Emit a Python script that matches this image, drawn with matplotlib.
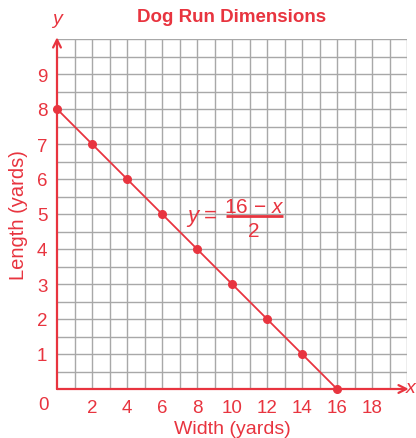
import matplotlib.pyplot as plt

plt.rcParams['font.family'] = 'Liberation Sans'
plt.rcParams['mathtext.fontset'] = 'custom'
plt.rcParams['mathtext.rm'] = 'Liberation Sans'
plt.rcParams['mathtext.it'] = 'Liberation Sans:italic'

red = '#e8343f'
grid_color = '#a8a8a8'

widths = [0, 2, 4, 6, 8, 10, 12, 14, 16]
lengths = [8, 7, 6, 5, 4, 3, 2, 1, 0]
x_ticks = [2, 4, 6, 8, 10, 12, 14, 16, 18]
y_ticks = [1, 2, 3, 4, 5, 6, 7, 8, 9]

fig = plt.figure(figsize=(4.16, 4.39), dpi=100)
ax = fig.add_axes([57 / 416, 49 / 439, 350 / 416, 350 / 439])
ax.set_xlim(0, 20)
ax.set_ylim(0, 10)

# grid: 1 unit across, half unit up
for gx in range(1, 21):
    ax.axvline(gx, color=grid_color, lw=1, zorder=1)
for i in range(1, 21):
    ax.axhline(i * 0.5, color=grid_color, lw=1, zorder=1)

for s in ax.spines.values():
    s.set_visible(False)

# axes with arrows
ax.annotate('', xy=(20.1, 0), xytext=(0, 0),
            arrowprops=dict(arrowstyle='->', color=red, lw=1.6,
                            mutation_scale=14, shrinkA=0, shrinkB=0),
            annotation_clip=False, zorder=3)
ax.annotate('', xy=(0, 10.05), xytext=(0, 0),
            arrowprops=dict(arrowstyle='->', color=red, lw=1.6,
                            mutation_scale=14, shrinkA=0, shrinkB=0),
            annotation_clip=False, zorder=3)

ax.plot(widths, lengths, color=red, lw=1.3, marker='o', markersize=5.5,
        clip_on=False, zorder=4)

ax.set_xticks(x_ticks)
ax.set_yticks(y_ticks)
ax.tick_params(length=0, colors=red, labelsize=13.5, pad=7)
ax.text(-0.8, -0.43, '0', color=red, fontsize=13.5, ha='center', va='center')

ax.text(0, 10.35, 'y', color=red, fontsize=14, style='italic',
        ha='center', va='bottom')
fig.text(1.0, 1 - 389 / 439, 'x', color=red, fontsize=14, style='italic',
         ha='right', va='center')

# equation y = (16 - x) / 2
ax.text(7.77, 4.81, 'y', color=red, fontsize=16, style='italic',
        ha='center', va='baseline')
ax.text(8.74, 4.81, '=', color=red, fontsize=16, ha='center', va='baseline')
ax.text(11.26, 5.06, '16 \u2212 $x$', color=red, fontsize=15, ha='center',
        va='baseline')
ax.hlines(4.95, 9.66, 12.91, color=red, lw=2, zorder=5)
ax.text(11.26, 4.37, '2', color=red, fontsize=15, ha='center', va='baseline')

ax.set_xlabel('Width (yards)', color=red, fontsize=14, labelpad=3)
ax.set_ylabel('Length (yards)', color=red, fontsize=14.5, labelpad=6)
fig.text(232 / 416, 1 - 17 / 439, 'Dog Run Dimensions', color=red,
         fontsize=13.5, fontweight='bold', ha='center', va='center')

fig.savefig('out.png', dpi=100)
